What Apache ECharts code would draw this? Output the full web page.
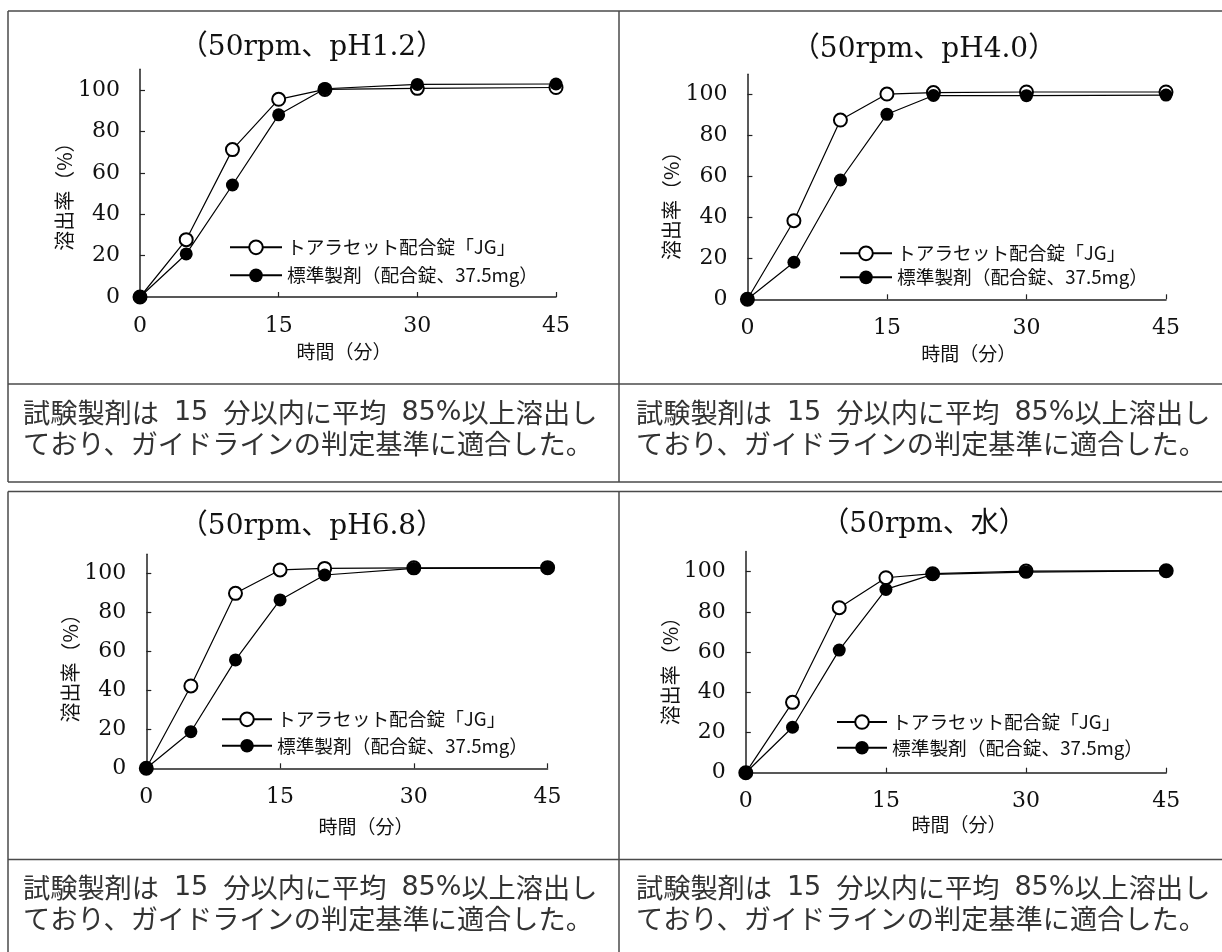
<!DOCTYPE html>
<html>
<head>
<meta charset="utf-8">
<script src="https://cdn.jsdelivr.net/npm/echarts@6/dist/echarts.min.js"></script>
<style>
html,body{margin:0;padding:0;background:#fff;}
#c{width:1222px;height:952px;}
</style>
</head>
<body>
<div id="c"></div>
<script>
// ---- data ----
const times = [0, 5, 10, 15, 20, 30, 45];
const xTicks = [0, 15, 30, 45];
const yTicks = [0, 20, 40, 60, 80, 100];
const seriesNames = ['トアラセット配合錠「JG」', '標準製剤（配合錠、37.5mg）'];
const panelTitles = ['（50rpm、pH1.2）', '（50rpm、pH4.0）', '（50rpm、pH6.8）', '（50rpm、水）'];
const jgPH12 = [0, 27.7, 71.2, 95.5, 100.3, 100.8, 101.2];
const stdPH12 = [0, 20.8, 54.1, 88.0, 100.6, 102.7, 102.9];
const jgPH40 = [0, 38.4, 87.6, 100.3, 101.0, 101.3, 101.3];
const stdPH40 = [0, 18.1, 58.3, 90.4, 99.6, 99.5, 99.8];
const jgPH68 = [0, 42.3, 89.9, 101.9, 102.7, 103.0, 103.1];
const stdPH68 = [0, 18.8, 55.7, 86.5, 99.3, 102.7, 102.8];
const jgWater = [0, 35.0, 82.1, 97.0, 99.0, 100.3, 100.5];
const stdWater = [0, 22.6, 61.0, 91.2, 98.7, 99.8, 100.4];
const note2 = 'ており、ガイドラインの判定基準に適合した。';
const xName = '時間（分）';
const yName = '溶出率（%）';

const jgData = [jgPH12, jgPH40, jgPH68, jgWater];
const stdData = [stdPH12, stdPH40, stdPH68, stdWater];

// ---- layout ----
const panels = [
  {left:140, top:69.3, width:416, height:227.7, tx:312, ty:48, yGap:58.5, yShift:8.5, xGap:45, xShift:-4, lg:{left:229, top:238, gap:9.3, w:52}},
  {left:747.4, top:74.2, width:418.6, height:225.1, tx:924, ty:50, yGap:59, yShift:14, xGap:45, xShift:12, lg:{left:839, top:244, gap:5.3, w:52}},
  {left:146.3, top:554.2, width:401.3, height:214.1, tx:312, ty:527, yGap:64.5, yShift:2, xGap:49, xShift:19, lg:{left:221, top:710, gap:7.7, w:50}},
  {left:745.8, top:551.6, width:420.4, height:221.1, tx:924, ty:525, yGap:61, yShift:4, xGap:43, xShift:3, lg:{left:836, top:712.7, gap:7, w:50}}
];

const serif = '"DejaVu Serif", "Noto Sans CJK JP", serif';
const sans = '"Noto Sans CJK JP", "Noto Sans", sans-serif';
const axisColor = '#222';

const grid = [], xAxis = [], yAxis = [], series = [], legend = [], graphic = [];

panels.forEach((p, i) => {
  grid.push({left:p.left, top:p.top, width:p.width, height:p.height, containLabel:false});
  xAxis.push({
    type:'value', gridIndex:i, min:0, max:45, interval:15,
    name:xName, nameLocation:'middle', nameGap:p.xGap,
    nameTextStyle:{fontFamily:sans, fontSize:19, color:'#111',
      padding: p.xShift >= 0 ? [0,0,0,2*p.xShift] : [0,-2*p.xShift,0,0]},
    axisLine:{show:true, onZero:false, lineStyle:{color:axisColor, width:1.5}},
    axisTick:{show:true, inside:true, length:5, lineStyle:{color:axisColor, width:1.2}, customValues:xTicks},
    axisLabel:{fontFamily:serif, fontSize:22, color:'#111', margin:18, customValues:xTicks},
    splitLine:{show:false}
  });
  yAxis.push({
    type:'value', gridIndex:i, min:0, max:110, interval:20,
    name:yName, nameLocation:'middle', nameRotate:90, nameGap:p.yGap,
    nameTextStyle:{fontFamily:sans, fontSize:20, color:'#111', padding:[0, 2*p.yShift, 0, 0]},
    axisLine:{show:true, onZero:false, lineStyle:{color:axisColor, width:1.5}},
    axisTick:{show:true, inside:true, length:5, lineStyle:{color:axisColor, width:1.2}, customValues:yTicks},
    axisLabel:{fontFamily:serif, fontSize:22, color:'#111', margin:20, customValues:yTicks,
      formatter: v => (v > 100 ? '' : String(v))},
    splitLine:{show:false}
  });
  series.push({
    type:'line', name:seriesNames[0], xAxisIndex:i, yAxisIndex:i,
    data: times.map((t, k) => [t, jgData[i][k]]),
    symbol:'emptyCircle', symbolSize:13,
    lineStyle:{color:'#000', width:1.2},
    itemStyle:{color:'#000', borderColor:'#000', borderWidth:2},
    emphasis:{disabled:true}, animation:false, z:2
  });
  series.push({
    type:'line', name:seriesNames[1], xAxisIndex:i, yAxisIndex:i,
    data: times.map((t, k) => [t, stdData[i][k]]),
    symbol:'circle', symbolSize:13,
    lineStyle:{color:'#000', width:1.2},
    itemStyle:{color:'#000'},
    emphasis:{disabled:true}, animation:false, z:3
  });
  legend.push({
    data:seriesNames, orient:'vertical', left:p.lg.left, top:p.lg.top,
    itemWidth:p.lg.w, itemHeight:17, itemGap:p.lg.gap, padding:0,
    selectedMode:false,
    textStyle:{fontFamily:sans, fontSize:18.7, color:'#111', lineHeight:18}
  });
  graphic.push({
    type:'text', x:p.tx, y:p.ty, silent:true,
    style:{text:panelTitles[i], font:'28px ' + serif, fill:'#111', textAlign:'center', textVerticalAlign:'middle'}
  });
});

// table frame lines
const lc = '#4a4a4a', lw = 1.5;
function hline(x1, x2, y) { graphic.push({type:'line', silent:true, shape:{x1:x1, y1:y, x2:x2, y2:y}, style:{stroke:lc, lineWidth:lw}}); }
function vline(x, y1, y2) { graphic.push({type:'line', silent:true, shape:{x1:x, y1:y1, x2:x, y2:y2}, style:{stroke:lc, lineWidth:lw}}); }
hline(8, 1230, 11); hline(8, 1230, 384); hline(8, 1230, 482);
vline(8, 11, 482); vline(619, 11, 482);
hline(8, 1230, 491.5); hline(8, 1230, 859.5);
vline(8, 491.5, 960); vline(619, 491.5, 960);

// notes (line 1: digits slightly wider, spaces as fixed gaps)
const note1 = '試験製剤は{s| }{d|15}{s| }分以内に平均{s| }{d|85%}以上溶出し';
const noteFont = '27.2px ' + sans;
const notePos = [[23, 413], [636, 413], [23, 888], [636, 888]];
notePos.forEach(([x, y]) => {
  graphic.push({type:'text', x:x, y:y, silent:true,
    style:{text:note1, font:noteFont, fill:'#333', textAlign:'left', textVerticalAlign:'middle',
      rich:{s:{width:15, font:noteFont}, d:{font:'27px "DejaVu Sans", sans-serif', fill:'#333'}}}});
  graphic.push({type:'text', x:x, y:y + 31, silent:true,
    style:{text:note2, font:noteFont, fill:'#333', textAlign:'left', textVerticalAlign:'middle'}});
});

const chart = echarts.init(document.getElementById('c'), null, {renderer:'canvas'});
chart.setOption({
  backgroundColor:'#fff',
  animation:false,
  grid, xAxis, yAxis, series, legend, graphic
});
</script>
</body>
</html>
